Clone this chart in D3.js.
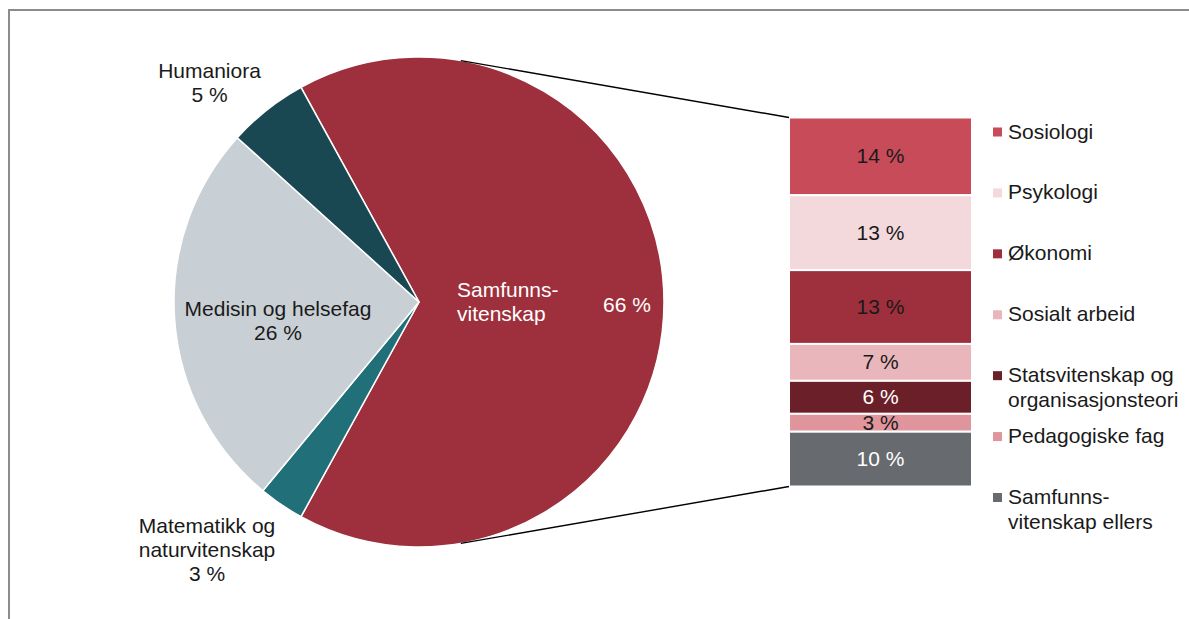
<!DOCTYPE html>
<html>
<head>
<meta charset="utf-8">
<script src="https://cdn.jsdelivr.net/npm/d3@7"></script>
<style>
  body { margin: 0; background: #fff; }
  svg { display: block; font-family: "Liberation Sans", Arial, sans-serif; }
</style>
</head>
<body>
<script>
// pie: main fields
const pieNames = ["Samfunnsvitenskap", "Matematikk og naturvitenskap", "Medisin og helsefag", "Humaniora"];
const pieValues = [66, 3, 25.7, 5.3];
const pieLabels = ["66 %", "3 %", "26 %", "5 %"];
const pieColors = ["#9e2f3d", "#216f79", "#c9d0d5", "#194852"];

// stacked bar: breakdown of samfunnsvitenskap
const subNames = ["Sosiologi", "Psykologi", "Økonomi", "Sosialt arbeid",
  "Statsvitenskap og organisasjonsteori", "Pedagogiske fag", "Samfunnsvitenskap ellers"];
const subValues = [13.9, 13.4, 13.2, 6.6, 5.9, 3.2, 9.8];
const subLabels = ["14 %", "13 %", "13 %", "7 %", "6 %", "3 %", "10 %"];
const subColors = ["#c84b5a", "#f3d9dc", "#9e2f3d", "#e9b6bb", "#6b1f28", "#e0959c", "#676b6f"];
const subTextColors = ["#1a1a1a", "#1a1a1a", "#1a1a1a", "#1a1a1a", "#ffffff", "#1a1a1a", "#ffffff"];
const legendLines = [["Sosiologi"], ["Psykologi"], ["Økonomi"], ["Sosialt arbeid"],
  ["Statsvitenskap og", "organisasjonsteori"], ["Pedagogiske fag"], ["Samfunns-", "vitenskap ellers"]];

const W = 1189, H = 619;
const cx = 419, cy = 302, R = 245;
const fs = 21;

const svg = d3.select("body").append("svg")
  .attr("width", W).attr("height", H);

// frame
svg.append("path")
  .attr("d", "M9," + (H + 2) + "V10H" + (W + 2))
  .attr("fill", "none")
  .attr("stroke", "#8c8c8c")
  .attr("stroke-width", 2);

// pie, rotated so the big slice points right
const start = Math.PI / 2 - Math.PI * pieValues[0] / 100;
const pie = d3.pie().sort(null).startAngle(start).endAngle(start + 2 * Math.PI);
const arcs = pie(pieValues);
const arc = d3.arc().innerRadius(0).outerRadius(R);

const g = svg.append("g").attr("transform", "translate(" + cx + "," + cy + ")");
g.selectAll("path.slice")
  .data(arcs)
  .enter()
  .append("path")
  .attr("class", "slice")
  .attr("d", arc)
  .attr("fill", (d, i) => pieColors[i])
  .attr("stroke", "#fff")
  .attr("stroke-width", 1.5);

// bar stack
const x0 = 789, x1 = 972;
const yScale = d3.scaleLinear()
  .domain([0, d3.sum(subValues)])
  .range([117.5, 486.5]);
const cum = d3.cumsum(subValues);
const stack = subValues.map((v, i) => ({ v: v, y0: cum[i] - v, y1: cum[i], i: i }));

svg.selectAll("rect.seg")
  .data(stack)
  .enter()
  .append("rect")
  .attr("class", "seg")
  .attr("x", x0)
  .attr("y", d => yScale(d.y0))
  .attr("width", x1 - x0)
  .attr("height", d => yScale(d.y1) - yScale(d.y0))
  .attr("fill", d => subColors[d.i])
  .attr("stroke", "#fff")
  .attr("stroke-width", 2);

svg.selectAll("text.seglab")
  .data(stack)
  .enter()
  .append("text")
  .attr("class", "seglab")
  .attr("x", (x0 + x1) / 2)
  .attr("y", d => (yScale(d.y0) + yScale(d.y1)) / 2 + 7)
  .attr("text-anchor", "middle")
  .attr("font-size", fs)
  .attr("fill", d => subTextColors[d.i])
  .text(d => subLabels[d.i]);

// connector lines: tangent from bar corners to the circle
function tangent(px, py, upper) {
  const dx = px - cx, dy = py - cy;
  const d = Math.sqrt(dx * dx + dy * dy);
  const base = Math.atan2(dy, dx);
  const off = Math.acos(R / d);
  const a = upper ? base - off : base + off;
  return [cx + R * Math.cos(a), cy + R * Math.sin(a)];
}
[[yScale.range()[0], true], [yScale.range()[1], false]].forEach(c => {
  const t = tangent(x0, c[0], c[1]);
  svg.append("line")
    .attr("x1", t[0]).attr("y1", t[1])
    .attr("x2", x0).attr("y2", c[0])
    .attr("stroke", "#000")
    .attr("stroke-width", 1.4);
});

// pie labels
const pieLabelLayout = [
  { lines: ["Samfunns-", "vitenskap"], x: 457, y: 297, anchor: "start", fill: "#fff" },
  { lines: [pieLabels[0]], x: 627, y: 312, anchor: "middle", fill: "#fff" },
  { lines: ["Matematikk og", "naturvitenskap", pieLabels[1]], x: 207, y: 533, anchor: "middle", fill: "#1a1a1a" },
  { lines: ["Medisin og helsefag", pieLabels[2]], x: 278, y: 316, anchor: "middle", fill: "#1a1a1a" },
  { lines: ["Humaniora", pieLabels[3]], x: 209.5, y: 78, anchor: "middle", fill: "#1a1a1a" }
];
pieLabelLayout.forEach(l => {
  const t = svg.append("text")
    .attr("font-size", fs)
    .attr("fill", l.fill)
    .attr("text-anchor", l.anchor);
  l.lines.forEach((s, j) => {
    t.append("tspan").attr("x", l.x).attr("y", l.y + j * 24).text(s);
  });
});

// legend
const legendY = d3.scaleLinear().domain([0, subNames.length - 1]).range([132, 497.5]);
const leg = svg.selectAll("g.leg")
  .data(legendLines)
  .enter()
  .append("g")
  .attr("class", "leg")
  .attr("transform", (d, i) => "translate(993," + legendY(i) + ")");
leg.append("rect")
  .attr("x", 0).attr("y", -4.5)
  .attr("width", 9).attr("height", 9)
  .attr("fill", (d, i) => subColors[i]);
leg.append("text")
  .attr("font-size", fs)
  .attr("fill", "#1a1a1a")
  .selectAll("tspan")
  .data(d => d)
  .enter()
  .append("tspan")
  .attr("x", 15)
  .attr("y", (d, j) => 6.5 + j * 25)
  .text(d => d);
</script>
</body>
</html>
